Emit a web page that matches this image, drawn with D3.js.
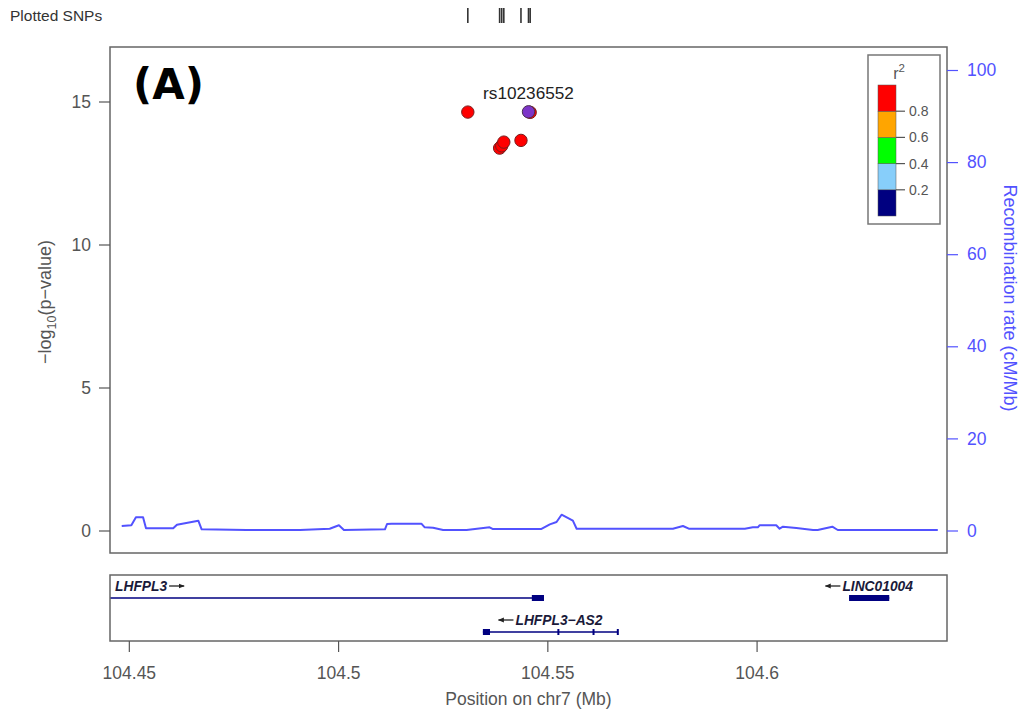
<!DOCTYPE html>
<html>
<head>
<meta charset="utf-8">
<script src="https://cdn.jsdelivr.net/npm/d3@7/dist/d3.min.js"></script>
<style>
  html, body { margin: 0; padding: 0; background: #fff; }
  svg { display: block; font-family: "Liberation Sans", Arial, Helvetica, sans-serif; }
</style>
</head>
<body>
<svg id="chart" width="1027" height="713"></svg>
<script>
// ---------------- DATA ----------------
const snpIds      = ["s1", "s2", "s3", "s4", "s5", "s6", "rs10236552"];
const snpPos      = [104.5310, 104.5386, 104.5391, 104.5396, 104.5437, 104.5459, 104.5455]; // Mb
const snpLogP     = [14.63, 13.37, 13.45, 13.58, 13.64, 14.62, 14.64];
const snpR2       = [0.92, 0.90, 0.90, 0.90, 0.88, 0.90, 1.0];
const leadSnp     = "rs10236552";

const recombPos  = [104.4483, 104.4506, 104.4517, 104.4534, 104.4541, 104.4606, 104.4615, 104.4666,
                    104.4674, 104.4781, 104.4909, 104.4980, 104.5002, 104.5014, 104.5112, 104.5117,
                    104.5128, 104.5199, 104.5207, 104.5227, 104.5251, 104.5307, 104.5362, 104.5369,
                    104.5486, 104.5506, 104.5522, 104.5534, 104.5561, 104.5570, 104.5800, 104.5824,
                    104.5838, 104.5972, 104.5991, 104.6003, 104.6007, 104.6047, 104.6055, 104.6063,
                    104.6095, 104.6135, 104.6146, 104.6181, 104.6194, 104.6433];
const recombRate = [0.98, 1.13, 2.86, 2.86, 0.48, 0.48, 1.26, 2.13,
                    0.26, 0.11, 0.11, 0.39, 1.13, 0.11, 0.26, 1.41,
                    1.48, 1.48, 0.69, 0.61, 0.11, 0.11, 0.69, 0.33,
                    0.33, 1.34, 1.84, 3.43, 2.13, 0.39, 0.39, 0.98,
                    0.39, 0.39, 0.69, 0.69, 1.13, 1.13, 0.39, 0.82,
                    0.54, 0.11, 0.11, 0.82, 0.11, 0.11];

const geneNames  = ["LHFPL3", "LHFPL3−AS2", "LINC01004"];
const geneStart  = [104.2000, 104.5346, 104.6221];
const geneEnd    = [104.5492, 104.5669, 104.6317];
const geneStrand = ["+", "-", "-"];
const geneRow    = [0, 1, 0];
const geneExons  = [
  [[104.5463, 104.5492]],
  [[104.5346, 104.5363], [104.5524, 104.5527], [104.5608, 104.5611], [104.5666, 104.5669]],
  [[104.6221, 104.6317]]
];

const xTicks      = [104.45, 104.5, 104.55, 104.6];
const yTicks      = [0, 5, 10, 15];
const recombTicks = [0, 20, 40, 60, 80, 100];
const legendBreaks = [0.2, 0.4, 0.6, 0.8];
const legendColors = ["#000080", "#87CEFA", "#00FF00", "#FFA500", "#FF0000"]; // 0-0.2 ... 0.8-1
const leadColor = "#7d35c8";

// ---------------- LAYOUT ----------------
const svg = d3.select("#chart");
const L = 110, R = 947, T = 47, B = 553;       // main panel
const GT = 575, GB = 641;                      // gene panel

const x = d3.scaleLinear().domain([104.4455, 104.6455]).range([L, R]);
const y = d3.scaleLinear().domain([0, 15]).range([530.5, 101.5]);
const yR = d3.scaleLinear().domain([0, 100]).range([530.5, 70]);
const r2color = d3.scaleThreshold().domain(legendBreaks).range(legendColors);

const grey = "#555";
const blue = "#5252ff";
const FS = 17.5;

// "Plotted SNPs" track
svg.append("text").attr("x", 10).attr("y", 21).attr("font-size", 15.5).attr("fill", "#333")
  .text("Plotted SNPs");
svg.append("g").selectAll("line").data(snpPos).join("line")
  .attr("x1", d => x(d)).attr("x2", d => x(d))
  .attr("y1", 8).attr("y2", 23)
  .attr("stroke", "#333").attr("stroke-width", 1.6);

// clip for main panel
svg.append("clipPath").attr("id", "clipMain").append("rect")
  .attr("x", L).attr("y", T).attr("width", R - L).attr("height", B - T);
svg.append("clipPath").attr("id", "clipGene").append("rect")
  .attr("x", L).attr("y", GT).attr("width", R - L).attr("height", GB - GT);

// recombination line
const line = d3.line().x((d, i) => x(recombPos[i])).y((d) => yR(d));
svg.append("path").attr("clip-path", "url(#clipMain)")
  .attr("d", line(recombRate))
  .attr("fill", "none").attr("stroke", blue).attr("stroke-width", 2)
  .attr("stroke-linejoin", "round");

// points
const idx = d3.range(snpPos.length).sort((a, b) => (snpIds[a] === leadSnp) - (snpIds[b] === leadSnp));
svg.append("g").attr("clip-path", "url(#clipMain)").selectAll("circle").data(idx).join("circle")
  .attr("cx", i => x(snpPos[i])).attr("cy", i => y(snpLogP[i]))
  .attr("r", 6.2)
  .attr("fill", i => snpIds[i] === leadSnp ? leadColor : r2color(snpR2[i]))
  .attr("stroke", i => snpIds[i] === leadSnp ? "#4a3050" : "#7a1c1c")
  .attr("stroke-width", 1);

// lead label
const li = snpIds.indexOf(leadSnp);
svg.append("text").attr("x", x(snpPos[li])).attr("y", y(snpLogP[li]) - 13)
  .attr("text-anchor", "middle").attr("font-size", 17.2).attr("fill", "#222")
  .text(leadSnp);

// main panel box
svg.append("rect").attr("x", L).attr("y", T).attr("width", R - L).attr("height", B - T)
  .attr("fill", "none").attr("stroke", "#666").attr("stroke-width", 1.5);

// left axis
const ya = svg.append("g").attr("transform", `translate(${L},0)`)
  .call(d3.axisLeft(y).tickValues(yTicks).tickSize(11).tickPadding(8).tickFormat(d3.format("d")));
ya.select(".domain").remove();
ya.selectAll("line").attr("stroke", grey).attr("stroke-width", 1.2);
ya.selectAll("text").attr("fill", grey).attr("font-size", FS).attr("font-family", "Liberation Sans, Arial, sans-serif");

// right axis
const yra = svg.append("g").attr("transform", `translate(${R},0)`)
  .call(d3.axisRight(yR).tickValues(recombTicks).tickSize(11).tickPadding(9).tickFormat(d3.format("d")));
yra.select(".domain").remove();
yra.selectAll("line").attr("stroke", blue).attr("stroke-width", 1.2);
yra.selectAll("text").attr("fill", blue).attr("font-size", FS).attr("font-family", "Liberation Sans, Arial, sans-serif");

// axis titles
const yt = svg.append("text").attr("transform", "translate(51,302) rotate(-90)")
  .attr("text-anchor", "middle").attr("font-size", 18).attr("fill", grey);
yt.append("tspan").text("−log");
yt.append("tspan").attr("font-size", 12.5).attr("dy", 5).text("10");
yt.append("tspan").attr("dy", -5).text("(p−value)");

svg.append("text").attr("transform", "translate(1004,298) rotate(90)")
  .attr("text-anchor", "middle").attr("font-size", 18).attr("fill", blue)
  .text("Recombination rate (cM/Mb)");

// legend
const lg = svg.append("g");
lg.append("rect").attr("x", 868).attr("y", 55).attr("width", 72).attr("height", 169)
  .attr("fill", "#fff").attr("stroke", "#777").attr("stroke-width", 1.5);
const lt = lg.append("text").attr("x", 899).attr("y", 79).attr("text-anchor", "middle")
  .attr("font-size", 16).attr("fill", grey);
lt.append("tspan").text("r");
lt.append("tspan").attr("font-size", 11.5).attr("dy", -7).text("2");
const ly = d3.scaleLinear().domain([0, 1]).range([216, 85]);
const levels = [0, 0.2, 0.4, 0.6, 0.8];
lg.selectAll("rect.blk").data(levels).join("rect").attr("class", "blk")
  .attr("x", 878).attr("width", 18)
  .attr("y", d => ly(d + 0.2)).attr("height", d => ly(d) - ly(d + 0.2))
  .attr("fill", (d, i) => legendColors[i]).attr("stroke", "#555").attr("stroke-width", 0.5);
lg.selectAll("line.tk").data(legendBreaks).join("line").attr("class", "tk")
  .attr("x1", 896).attr("x2", 905).attr("y1", d => ly(d)).attr("y2", d => ly(d))
  .attr("stroke", grey).attr("stroke-width", 1.2);
lg.selectAll("text.tl").data(legendBreaks).join("text").attr("class", "tl")
  .attr("x", 909).attr("y", d => ly(d) + 5).attr("font-size", 14).attr("fill", grey)
  .text(d => d3.format(".1f")(d));

// (A)
svg.append("text").attr("x", 133).attr("y", 99).attr("font-family", "DejaVu Sans, sans-serif")
  .attr("font-weight", "bold").attr("font-size", 42).attr("fill", "#000").text("(A)");

// gene panel
const gp = svg.append("g");
const rowLineY = [598, 632];
const gc = gp.append("g").attr("clip-path", "url(#clipGene)");
geneNames.forEach((g, i) => {
  const ly0 = rowLineY[geneRow[i]];
  gc.append("line").attr("x1", x(geneStart[i])).attr("x2", x(geneEnd[i]))
    .attr("y1", ly0).attr("y2", ly0).attr("stroke", "#000080").attr("stroke-width", 1.5);
  geneExons[i].forEach(e => {
    const x0 = x(e[0]), x1 = x(e[1]);
    gc.append("rect").attr("x", x0).attr("y", ly0 - 3).attr("width", Math.max(2, x1 - x0)).attr("height", 6)
      .attr("fill", "#000080");
  });
});
gp.append("rect").attr("x", L).attr("y", GT).attr("width", R - L).attr("height", GB - GT)
  .attr("fill", "none").attr("stroke", "#666").attr("stroke-width", 1.5);

// gene labels with strand arrows
svg.append("defs").append("marker").attr("id", "ah").attr("viewBox", "0 0 10 10")
  .attr("refX", 9).attr("refY", 5).attr("markerWidth", 6).attr("markerHeight", 6)
  .attr("orient", "auto-start-reverse").attr("markerUnits", "userSpaceOnUse")
  .append("path").attr("d", "M0,1 L10,5 L0,9 Z").attr("fill", "#222");

geneNames.forEach((g, i) => {
  const baseY = rowLineY[geneRow[i]] - 7;
  const sx = Math.max(x(geneStart[i]), L + 5);
  const ex = Math.min(x(geneEnd[i]), R - 5);
  const t = svg.append("text").attr("y", baseY).attr("font-size", 13.8)
    .attr("font-style", "italic").attr("font-weight", "bold").attr("fill", "#1a1a3a").text(g);
  const w = t.node().getComputedTextLength();
  const arrowW = 15, gap = 2;
  let tx;
  if (x(geneStart[i]) < L) tx = L + 5;              // gene starts before window: left aligned
  else tx = (sx + ex) / 2 - (w + arrowW + gap) / 2 + (geneStrand[i] === "-" ? arrowW + gap : 0);
  t.attr("x", tx);
  const ay = baseY - 5;
  if (geneStrand[i] === "+") {
    svg.append("line").attr("x1", tx + w + gap).attr("x2", tx + w + gap + arrowW)
      .attr("y1", ay).attr("y2", ay).attr("stroke", "#222").attr("stroke-width", 1.3)
      .attr("marker-end", "url(#ah)");
  } else {
    svg.append("line").attr("x1", tx - gap).attr("x2", tx - gap - arrowW)
      .attr("y1", ay).attr("y2", ay).attr("stroke", "#222").attr("stroke-width", 1.3)
      .attr("marker-end", "url(#ah)");
  }
});

// x axis
const xa = svg.append("g").attr("transform", `translate(0,${GB})`)
  .call(d3.axisBottom(x).tickValues(xTicks).tickSize(11).tickPadding(15)
    .tickFormat(d => String(+d.toFixed(2))));
xa.select(".domain").remove();
xa.selectAll("line").attr("stroke", grey).attr("stroke-width", 1.2);
xa.selectAll("text").attr("fill", grey).attr("font-size", FS).attr("font-family", "Liberation Sans, Arial, sans-serif");

svg.append("text").attr("x", (L + R) / 2).attr("y", 705).attr("text-anchor", "middle")
  .attr("font-size", FS).attr("fill", grey).text("Position on chr7 (Mb)");
</script>
</body>
</html>
